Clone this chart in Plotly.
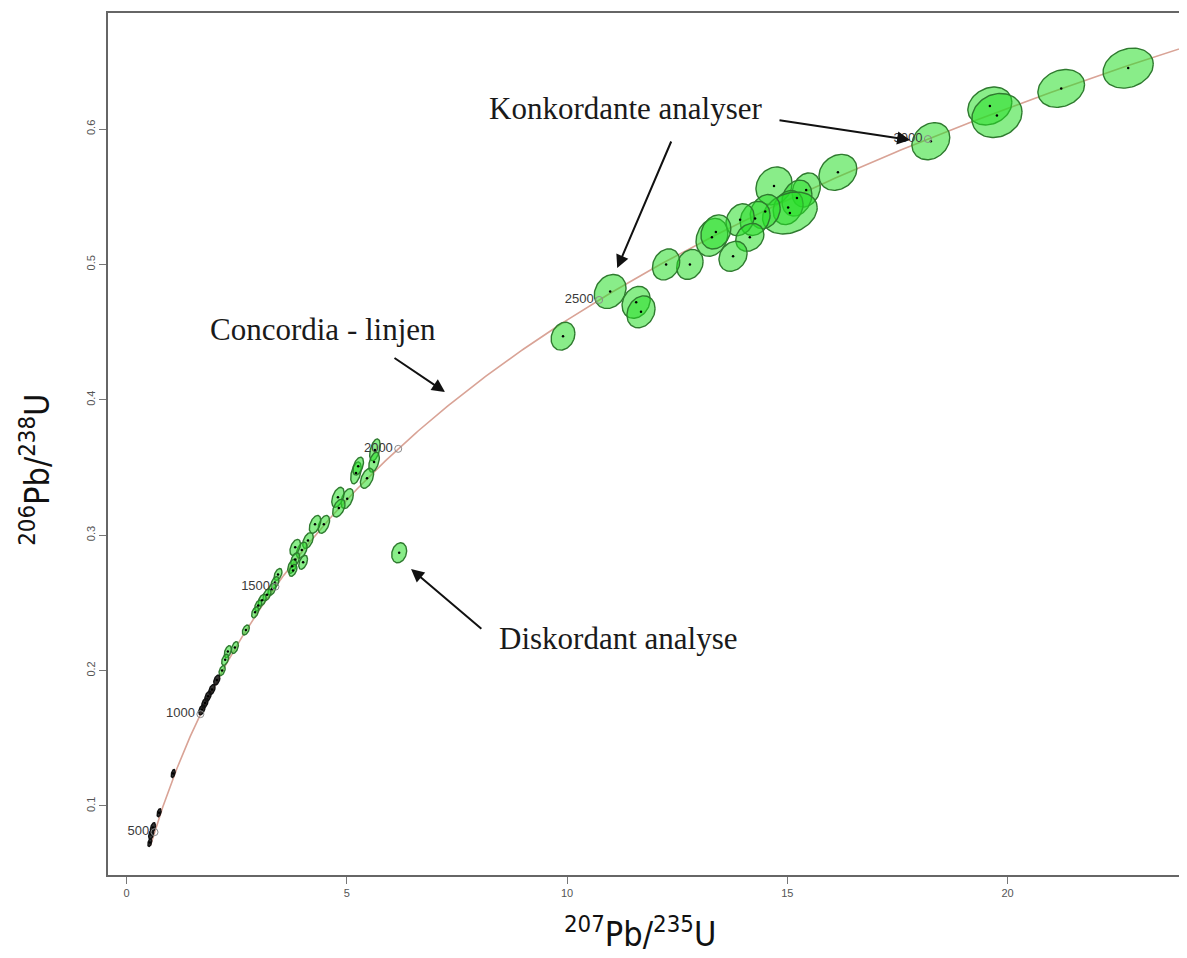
import numpy as np
import plotly.graph_objects as go

# ---- U-Pb zircon analyses (207Pb/235U, 206Pb/238U, half-widths, error correlation) ----
pb207_u235 = [22.74, 21.22, 19.60, 19.76, 18.26, 16.15, 14.70, 15.43, 15.22, 15.02,
              15.06, 14.50, 14.27, 13.93, 14.15, 13.77, 13.29, 13.38, 12.79, 12.25,
              11.57, 11.68, 10.98, 9.91,
              5.64, 5.62, 5.46, 5.21, 5.26, 5.01, 4.80, 4.82, 4.48, 4.28,
              4.12, 3.98, 3.83, 3.83, 3.76, 4.01, 3.78, 3.44, 3.37, 3.30,
              3.19, 3.08, 2.99, 2.92, 2.71, 2.46, 2.30, 2.24, 2.17, 2.05,
              1.94, 1.85, 1.78, 1.71, 1.06, 0.74, 0.60, 0.56, 0.53,
              6.19]
pb206_u238 = [0.645, 0.630, 0.617, 0.610, 0.591, 0.568, 0.558, 0.555, 0.549, 0.542,
              0.538, 0.539, 0.534, 0.533, 0.520, 0.506, 0.520, 0.524, 0.500, 0.500,
              0.472, 0.465, 0.480, 0.447,
              0.363, 0.354, 0.342, 0.346, 0.351, 0.327, 0.328, 0.320, 0.308, 0.308,
              0.296, 0.289, 0.291, 0.282, 0.277, 0.280, 0.274, 0.271, 0.265, 0.260,
              0.256, 0.252, 0.248, 0.243, 0.230, 0.217, 0.214, 0.208, 0.200, 0.193,
              0.186, 0.181, 0.176, 0.171, 0.124, 0.095, 0.084, 0.079, 0.073,
              0.287]
err_x = [0.57, 0.53, 0.50, 0.57, 0.43, 0.43, 0.41, 0.32, 0.34, 0.34,
         0.62, 0.34, 0.34, 0.32, 0.32, 0.32, 0.36, 0.34, 0.30, 0.31,
         0.32, 0.32, 0.36, 0.27,
         0.12, 0.12, 0.15, 0.12, 0.12, 0.14, 0.14, 0.14, 0.13, 0.13,
         0.12, 0.12, 0.12, 0.10, 0.10, 0.10, 0.09, 0.09, 0.09, 0.09,
         0.09, 0.09, 0.08, 0.08, 0.08, 0.08, 0.08, 0.08, 0.07, 0.07,
         0.07, 0.07, 0.07, 0.07, 0.045, 0.045, 0.057, 0.057, 0.045,
         0.17]
err_y = [0.0148, 0.0140, 0.0140, 0.0163, 0.0137, 0.0133, 0.0140, 0.0126, 0.0133, 0.0126,
         0.0155, 0.0126, 0.0126, 0.0118, 0.0103, 0.0111, 0.0140, 0.0126, 0.0111, 0.0115,
         0.0118, 0.0118, 0.0126, 0.0103,
         0.0081, 0.0074, 0.0074, 0.0081, 0.0066, 0.0074, 0.0074, 0.0066, 0.0066, 0.0066,
         0.0059, 0.0059, 0.0059, 0.0052, 0.0052, 0.0052, 0.0044, 0.0044, 0.0044, 0.0044,
         0.0044, 0.0044, 0.0041, 0.0041, 0.0037, 0.0044, 0.0044, 0.0041, 0.0037, 0.0037,
         0.0037, 0.0037, 0.0037, 0.0037, 0.0030, 0.0030, 0.0037, 0.0037, 0.0030,
         0.0074]
err_rho = [0.20, 0.20, 0.20, 0.15, 0.20, 0.20, 0.15, 0.20, 0.20, 0.20,
           0.25, 0.20, 0.20, 0.20, 0.20, 0.20, 0.20, 0.20, 0.20, 0.20,
           0.20, 0.20, 0.20, 0.20,
           0.45, 0.45, 0.45, 0.45, 0.45, 0.45, 0.45, 0.45, 0.45, 0.45,
           0.45, 0.45, 0.45, 0.45, 0.45, 0.45, 0.45, 0.45, 0.45, 0.45,
           0.45, 0.45, 0.45, 0.45, 0.45, 0.45, 0.45, 0.45, 0.45, 0.45,
           0.45, 0.45, 0.45, 0.45, 0.45, 0.45, 0.45, 0.45, 0.45,
           0.20]

# ---- concordia age markers (Ma) ----
age_ticks = [500, 1000, 1500, 2000, 2500, 3000]
age_labels = ["500", "1000", "1500", "2000", "2500", "3000"]
concordia_age_range = [440, 3280]

LAMBDA_238 = 1.55125e-10
LAMBDA_235 = 9.8485e-10

x_ticks = [0, 5, 10, 15, 20]
y_ticks = [0.1, 0.2, 0.3, 0.4, 0.5, 0.6]

fig = go.Figure()

# concordia curve
ages = np.linspace(concordia_age_range[0], concordia_age_range[1], 400) * 1e6
fig.add_trace(go.Scatter(x=np.expm1(LAMBDA_235 * ages), y=np.expm1(LAMBDA_238 * ages),
                         mode="lines", line=dict(color="#d9a396", width=1.6),
                         hoverinfo="skip"))

# error ellipses
tt = np.linspace(0, 2 * np.pi, 90)
for cx, cy, sx, sy, r in zip(pb207_u235, pb206_u238, err_x, err_y, err_rho):
    ex = cx + sx * np.cos(tt)
    ey = cy + sy * (r * np.cos(tt) + np.sqrt(1 - r * r) * np.sin(tt))
    dark = cy < 0.195
    fig.add_trace(go.Scatter(
        x=ex, y=ey, mode="lines", fill="toself",
        fillcolor="rgba(20,20,20,0.85)" if dark else "rgba(40,222,40,0.55)",
        line=dict(color="#111111" if dark else "#2f7a2f", width=1.4),
        hoverinfo="skip"))

# ellipse centres
fig.add_trace(go.Scatter(x=pb207_u235, y=pb206_u238, mode="markers",
                         marker=dict(color="black", size=2.5), hoverinfo="skip"))

# age markers on concordia
ta = np.array(age_ticks) * 1e6
fig.add_trace(go.Scatter(x=np.expm1(LAMBDA_235 * ta), y=np.expm1(LAMBDA_238 * ta),
                         mode="markers+text", text=age_labels, textposition="middle left",
                         textfont=dict(family="Liberation Sans, Arial", size=13, color="#3a3a3a"),
                         marker=dict(symbol="circle-open", size=7, color="#8a8a8a",
                                     line=dict(width=1)),
                         hoverinfo="skip"))

serif = dict(family="Liberation Serif, Times New Roman, serif", size=31, color="#1a1a1a")
label_font = dict(family="Liberation Sans Narrow, DejaVu Sans Condensed, sans-serif",
                  size=34, color="#111")
annotations = [
    dict(x=8.18, y=0.6155, text="Konkordante analyser", showarrow=False,
         xanchor="left", yanchor="middle", font=serif),
    dict(x=1.85, y=0.4516, text="Concordia - linjen", showarrow=False,
         xanchor="left", yanchor="middle", font=serif),
    dict(x=8.41, y=0.2240, text="Diskordant analyse", showarrow=False,
         xanchor="left", yanchor="middle", font=serif),
    # arrows
    dict(x=17.79, y=0.5919, ax=14.79, ay=0.6067, axref="x", ayref="y", text="",
         showarrow=True, arrowhead=2, arrowsize=1.3, arrowwidth=2, arrowcolor="#111", standoff=0),
    dict(x=11.14, y=0.4973, ax=12.38, ay=0.5919, axref="x", ayref="y", text="",
         showarrow=True, arrowhead=2, arrowsize=1.3, arrowwidth=2, arrowcolor="#111", standoff=0),
    dict(x=7.23, y=0.4058, ax=6.05, ay=0.4316, axref="x", ayref="y", text="",
         showarrow=True, arrowhead=2, arrowsize=1.3, arrowwidth=2, arrowcolor="#111", standoff=0),
    dict(x=6.46, y=0.2750, ax=8.09, ay=0.2300, axref="x", ayref="y", text="",
         showarrow=True, arrowhead=2, arrowsize=1.3, arrowwidth=2, arrowcolor="#111", standoff=0),
    # axis titles
    dict(xref="paper", yref="paper", x=-0.0677, y=0.47,
         text="<sup>206</sup>Pb/<sup>238</sup>U", textangle=-90, showarrow=False,
         xanchor="center", yanchor="middle", font=label_font),
    dict(xref="paper", yref="paper", x=0.493, y=-0.0945,
         text="<sup>207</sup>Pb/<sup>235</sup>U", showarrow=False,
         xanchor="center", yanchor="bottom", font=label_font),
]

# page body has an 8px margin, so the figure is offset by 8px
fig.update_layout(
    width=1179, height=950,
    margin=dict(l=100, r=0, t=5, b=83),
    paper_bgcolor="white", plot_bgcolor="white",
    showlegend=False,
    annotations=annotations,
    xaxis=dict(range=[-0.42, 24.075], tickvals=x_ticks, ticks="outside", ticklen=7,
               tickcolor="#777", tickwidth=1, showline=True, linecolor="#666", linewidth=2,
               mirror=True, showgrid=False, zeroline=False,
               tickfont=dict(family="Liberation Sans, Arial", size=11, color="#555")),
    yaxis=dict(range=[0.049, 0.6857], tickvals=y_ticks, ticks="outside", ticklen=7,
               tickcolor="#777", tickwidth=1, showline=True, linecolor="#666", linewidth=2,
               showgrid=False, zeroline=False, tickangle=-90,
               tickfont=dict(family="Liberation Sans, Arial", size=11, color="#555")),
)

fig.write_html("out.html")
